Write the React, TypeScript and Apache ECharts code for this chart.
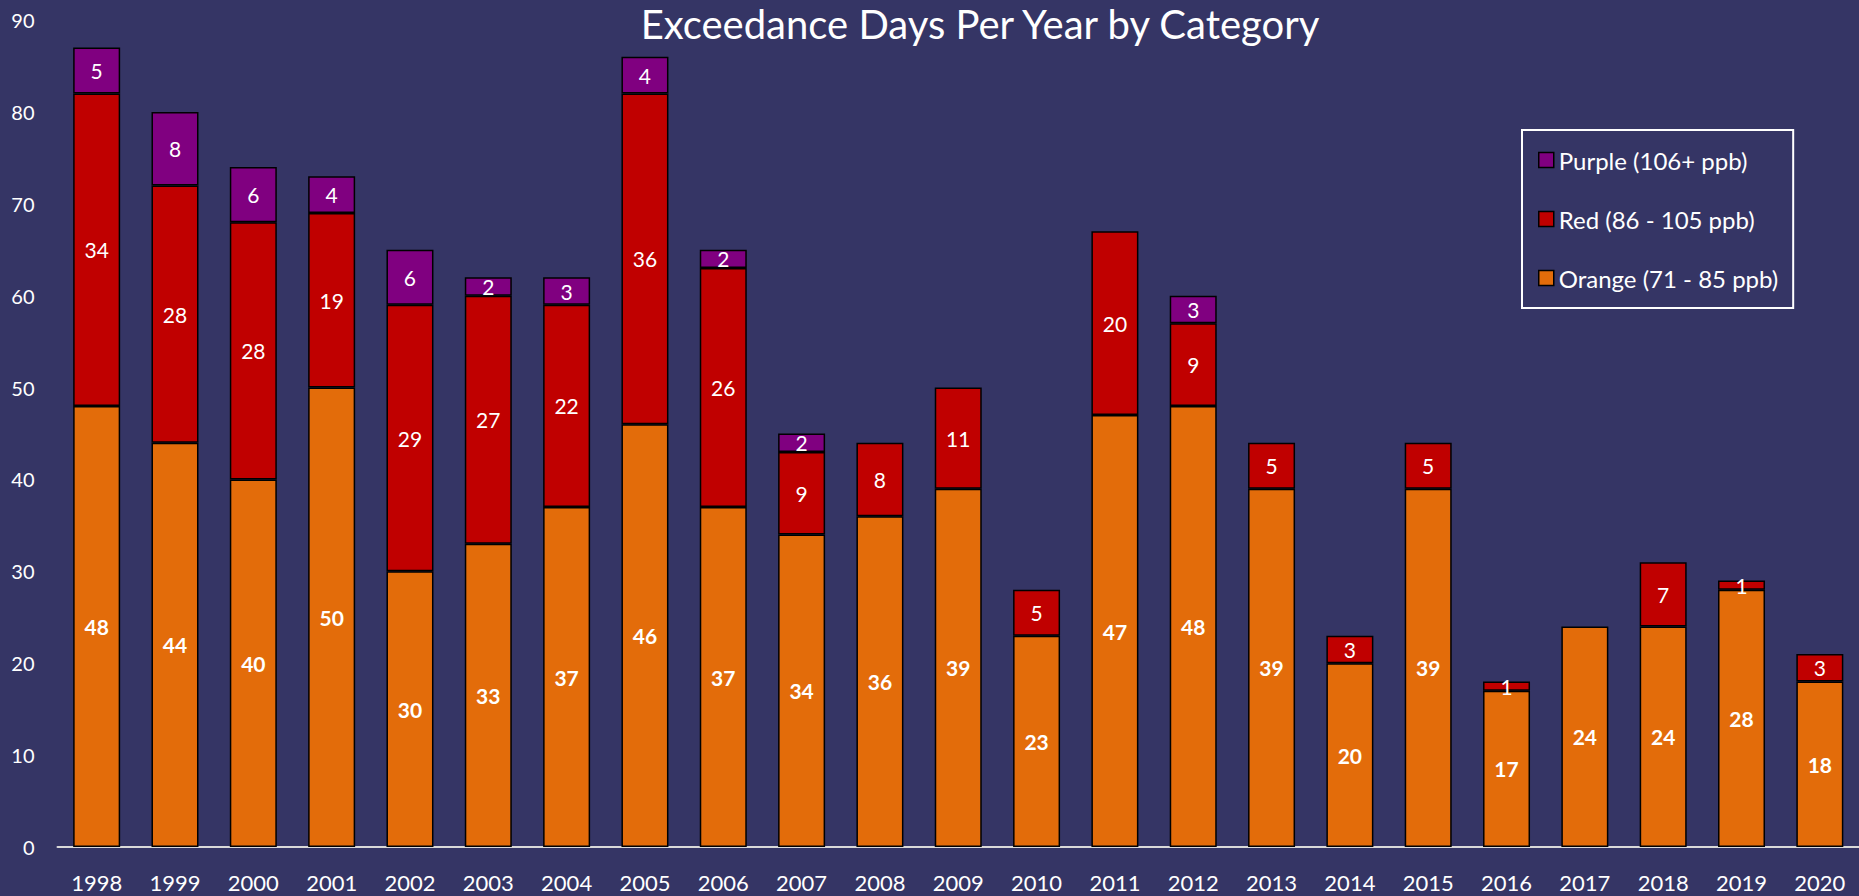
import React, { useEffect, useRef } from "react";
import * as echarts from "echarts";

const years = ["1998","1999","2000","2001","2002","2003","2004","2005","2006","2007","2008","2009","2010","2011","2012","2013","2014","2015","2016","2017","2018","2019","2020"];
const orangeDays = [48,44,40,50,30,33,37,46,37,34,36,39,23,47,48,39,20,39,17,24,24,28,18];
const redDays = [34,28,28,19,29,27,22,36,26,9,8,11,5,20,9,5,3,5,1,null,7,1,3];
const purpleDays = [5,8,6,4,6,2,3,4,2,2,null,null,null,null,3,null,null,null,null,null,null,null,null];

const seriesNames = ["Purple (106+ ppb)", "Red (86 - 105 ppb)", "Orange (71 - 85 ppb)"];
const FONT = "Lato, 'Open Sans', sans-serif";

export default function App() {
  const ref = useRef<HTMLDivElement>(null);
  useEffect(() => {
    if (!ref.current) return;
    const chart = echarts.init(ref.current, null, { renderer: "svg" });
    const barBase = {
      type: "bar",
      stack: "total",
      barWidth: 47,
      itemStyle: { borderColor: "#000000", borderWidth: 1.5 },
    };
    chart.setOption({
      animation: false,
      backgroundColor: "#353565",
      textStyle: { fontFamily: FONT },
      title: {
        text: "Exceedance Days Per Year by Category",
        left: 980,
        top: 0,
        textAlign: "center",
        padding: 0,
        textStyle: { color: "#ffffff", fontSize: 40, fontWeight: "normal", fontFamily: FONT, lineHeight: 48 },
      },
      legend: {
        data: seriesNames,
        orient: "vertical",
        left: 1522,
        top: 130,
        padding: [18, 15, 18, 16],
        itemGap: 35,
        itemWidth: 15,
        itemHeight: 15,
        borderColor: "#ffffff",
        borderWidth: 2,
        icon: "rect",
        itemStyle: { borderColor: "#000000", borderWidth: 1.5 },
        textStyle: { color: "#ffffff", fontSize: 24, fontFamily: FONT, lineHeight: 22 },
      },
      grid: { left: 57.5, right: 0, top: 20, bottom: 49, containLabel: false },
      xAxis: {
        type: "category",
        data: years,
        axisLine: { lineStyle: { color: "#d9d9d9", width: 2 } },
        axisTick: { show: false },
        axisLabel: { color: "#ffffff", fontSize: 22, margin: 24, fontFamily: FONT },
      },
      yAxis: {
        type: "value",
        min: 0,
        max: 90,
        interval: 10,
        splitLine: { show: false },
        axisLine: { show: false },
        axisTick: { show: false },
        axisLabel: { color: "#ffffff", fontSize: 20, margin: 23, fontFamily: FONT },
      },
      series: [
        {
          ...barBase,
          name: seriesNames[2],
          data: orangeDays,
          itemStyle: { ...barBase.itemStyle, color: "#E36C0A" },
          label: { show: true, position: "inside", color: "#ffffff", fontSize: 21, fontWeight: "bold", fontFamily: FONT },
        },
        {
          ...barBase,
          name: seriesNames[1],
          data: redDays,
          itemStyle: { ...barBase.itemStyle, color: "#C00000" },
          label: { show: true, position: "inside", color: "#ffffff", fontSize: 21, fontFamily: FONT },
        },
        {
          ...barBase,
          name: seriesNames[0],
          data: purpleDays,
          itemStyle: { ...barBase.itemStyle, color: "#800080" },
          label: { show: true, position: "inside", color: "#ffffff", fontSize: 21, fontFamily: FONT },
        },
      ],
    });
    return () => chart.dispose();
  }, []);
  return (
    <div
      ref={ref}
      style={{ position: "fixed", left: 0, top: 0, width: 1859, height: 896 }}
    />
  );
}
